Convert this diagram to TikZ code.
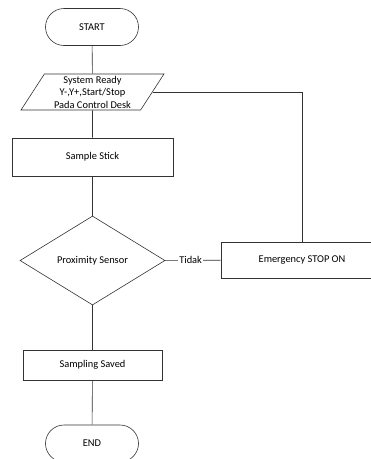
\documentclass[tikz,border=0pt]{standalone}
\usepackage{fontspec}
\setmainfont{Carlito}
\usepackage{tikz}
\usetikzlibrary{shapes.geometric, positioning}

\begin{document}
\begin{tikzpicture}
	[   x=1pt, y=-1pt,
		font=\fontsize{10.4}{12.5}\selectfont,
		term/.style={draw=black!80,line width=0.6pt,rectangle,rounded corners=18.5pt,minimum width=93pt,minimum height=37pt},
		io/.style={draw=black!80,line width=0.6pt,trapezium,trapezium left angle=60,trapezium right angle=120,trapezium stretches=true,minimum width=143pt,minimum height=36pt,inner sep=0pt,align=center},
		proc/.style={draw=black!80,line width=0.6pt,rectangle,minimum height=#1},
		dec/.style={draw=black!80,line width=0.6pt,diamond,aspect=1.6,minimum width=145pt,minimum height=89pt,inner sep=0pt},
	]
	\tikzset{flow line/.style={draw=black!80,line width=0.6pt}}
	\useasboundingbox (0,0) rectangle (371,459);
	
	\node[term] (start) at (92,27) {START};
	\node[io] (ready) at (92.5,92) {System Ready\\Y-,Y+,Start/Stop\\Pada Control Desk};
	\node[proc=38pt,minimum width=161pt] (stick) at (92.5,157) {Sample Stick};
	\node[dec] (prox) at (92.5,260.5) {Proximity Sensor};
	\node[proc=36pt,minimum width=162pt] (emg) at (302,260) {Emergency STOP ON};
	\node[proc=30pt,minimum width=139pt] (saved) at (92.5,365) {Sampling Saved};
	\node[term] (end) at (92,443.5) {END};
	
	\coordinate (corner) at (302,92);
	
	\path[flow line] (start) -- (ready);
	\path[flow line] (ready) -- (stick);
	\path[flow line] (stick) -- (prox);
	\path[flow line] (prox) -- node[fill=white,inner sep=1pt,pos=0.46] {Tidak} (emg);
	\path[flow line] (emg) -- (corner) -- (ready.east |- corner);
	\path[flow line] (prox) -- (saved);
	\path[flow line] (saved) -- (end);
\end{tikzpicture}
\end{document}
